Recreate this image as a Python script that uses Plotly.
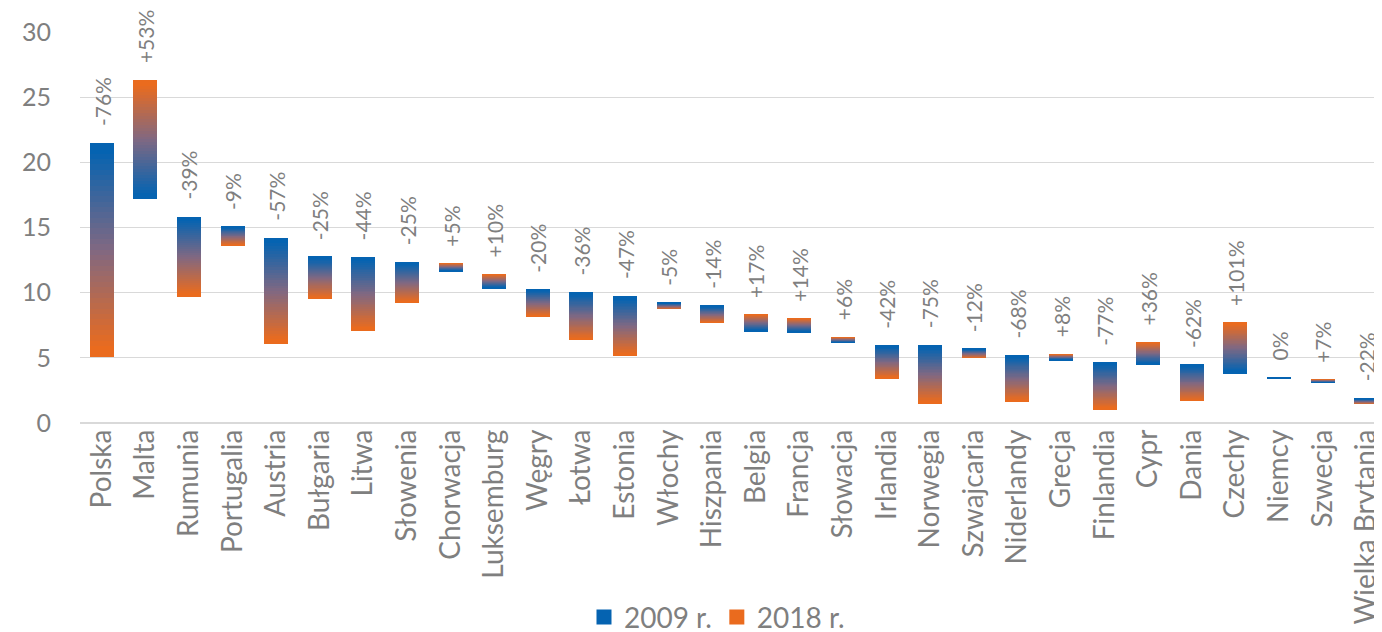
import plotly.graph_objects as go
import numpy as np

# Data
countries = ['Polska', 'Malta', 'Rumunia', 'Portugalia', 'Austria', 'Bułgaria', 'Litwa',
             'Słowenia', 'Chorwacja', 'Luksemburg', 'Węgry', 'Łotwa', 'Estonia', 'Włochy',
             'Hiszpania', 'Belgia', 'Francja', 'Słowacja', 'Irlandia', 'Norwegia',
             'Szwajcaria', 'Niderlandy', 'Grecja', 'Finlandia', 'Cypr', 'Dania', 'Czechy',
             'Niemcy', 'Szwecja', 'Wielka Brytania']
val_2009 = [21.5, 17.2, 15.8, 15.05, 14.2, 12.75, 12.7, 12.3, 11.65, 10.35, 10.25, 10.0,
            9.7, 9.23, 8.98, 7.05, 6.97, 6.15, 5.93, 5.95, 5.68, 5.17, 4.83, 4.63, 4.5,
            4.47, 3.82, 3.46, 3.08, 1.87]
val_2018 = [5.1, 26.3, 9.65, 13.65, 6.05, 9.55, 7.05, 9.25, 12.23, 11.38, 8.2, 6.38,
            5.12, 8.75, 7.7, 8.3, 8.0, 6.55, 3.44, 1.47, 5.0, 1.64, 5.24, 1.06, 6.15,
            1.69, 7.7, 3.45, 3.32, 1.46]
pct_labels = ['-76%', '+53%', '-39%', '-9%', '-57%', '-25%', '-44%', '-25%', '+5%', '+10%',
              '-20%', '-36%', '-47%', '-5%', '-14%', '+17%', '+14%', '+6%', '-42%', '-75%',
              '-12%', '-68%', '+8%', '-77%', '+36%', '-62%', '+101%', '0%', '+7%', '-22%']

BLUE = (5, 99, 177)
MID = (128, 104, 130)
ORANGE = (234, 107, 30)
GREY = '#7f7f7f'
FONT = 'Lato'


def rgb(c):
    return 'rgb(%d,%d,%d)' % c


def grad_color(t):
    # blue -> mauve -> orange
    if t < 0.5:
        a, b, u = BLUE, MID, t / 0.5
    else:
        a, b, u = MID, ORANGE, (t - 0.5) / 0.5
    return rgb(tuple(round(a[c] + (b[c] - a[c]) * u) for c in range(3)))


v09 = np.array(val_2009)
v18 = np.array(val_2018)
# bars with (almost) no change are shown as a plain blue hairline
flat = [abs(a - b) < 0.05 for a, b in zip(val_2009, val_2018)]

fig = go.Figure()

# gradient bars: thin slices from the 2009 end (blue) to the 2018 end (orange)
n_seg = 40
step = (v18 - v09) / n_seg
for k in reversed(range(n_seg)):
    t = (k + 0.5) / n_seg
    t = min(max((t - 0.04) / 0.92, 0), 1)
    col = grad_color(t)
    fig.add_trace(go.Bar(
        x=countries, y=step * 1.02, base=v09 + step * k,
        width=0.55, marker_color=[rgb(BLUE) if f else col for f in flat],
        marker_line_width=0,
        showlegend=False, hoverinfo='skip'))

# legend entries
fig.add_trace(go.Scatter(x=[None], y=[None], mode='markers', name='2009 r.',
                         marker=dict(symbol='square', size=15, color=rgb(BLUE))))
fig.add_trace(go.Scatter(x=[None], y=[None], mode='markers', name='2018 r.',
                         marker=dict(symbol='square', size=15, color=rgb(ORANGE))))

# percent change labels
for c, a, b, lab in zip(countries, val_2009, val_2018, pct_labels):
    fig.add_annotation(x=c, y=max(a, b), text=lab, textangle=-90, showarrow=False,
                       yanchor='bottom', yshift=15,
                       font=dict(family=FONT, size=21, color=GREY))

fig.update_layout(
    width=1382, height=632,
    barmode='overlay',
    bargap=0,
    paper_bgcolor='white', plot_bgcolor='white',
    margin=dict(l=72, r=2, t=24, b=217, autoexpand=False),
    font=dict(family=FONT, color=GREY),
    legend=dict(orientation='h', x=0.487, xanchor='center', y=-0.497, yanchor='middle',
                font=dict(size=28, color=GREY), traceorder='normal', itemwidth=30),
    xaxis=dict(tickangle=-90, tickfont=dict(size=28, color=GREY), showline=False,
               ticks='', range=[-0.5, len(countries) - 0.5], automargin=False),
    yaxis=dict(range=[0, 30], dtick=5, gridcolor='#d9d9d9', gridwidth=1,
               zeroline=True, zerolinecolor='#d9d9d9', zerolinewidth=1.5,
               tickfont=dict(size=25, color=GREY), ticklabelstandoff=28,
               showline=False, automargin=False),
)

fig.write_html('out.html')
